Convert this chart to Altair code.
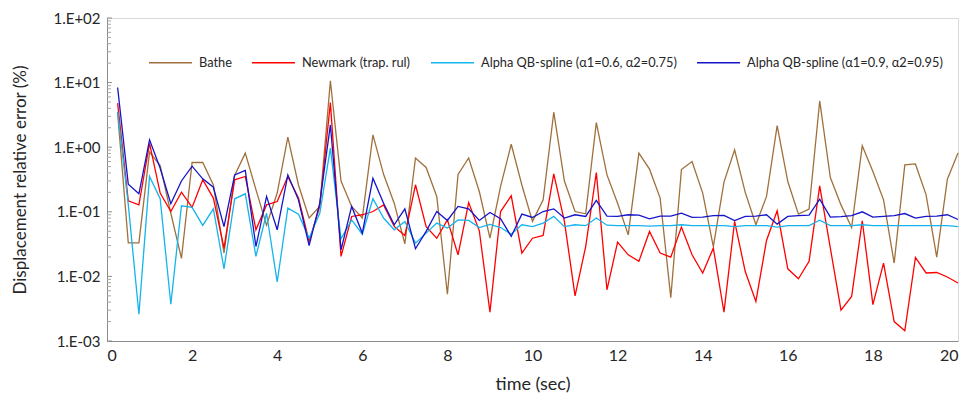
import altair as alt
import pandas as pd

# time steps (sec)
time = [0.25, 0.5, 0.75, 1.0, 1.25, 1.5, 1.75, 2.0, 2.25, 2.5, 2.75, 3.0,
        3.25, 3.5, 3.75, 4.0, 4.25, 4.5, 4.75, 5.0, 5.25, 5.5, 5.75, 6.0,
        6.25, 6.5, 6.75, 7.0, 7.25, 7.5, 7.75, 8.0, 8.25, 8.5, 8.75, 9.0,
        9.25, 9.5, 9.75, 10.0, 10.25, 10.5, 10.75, 11.0, 11.25, 11.5, 11.75, 12.0,
        12.25, 12.5, 12.75, 13.0, 13.25, 13.5, 13.75, 14.0, 14.25, 14.5, 14.75, 15.0,
        15.25, 15.5, 15.75, 16.0, 16.25, 16.5, 16.75, 17.0, 17.25, 17.5, 17.75, 18.0,
        18.25, 18.5, 18.75, 19.0, 19.25, 19.5, 19.75, 20.0]

bathe = [3.4, 0.033, 0.033, 0.84, 0.52, 0.095, 0.019, 0.58, 0.58, 0.26, 0.023, 0.365,
         0.81, 0.22, 0.062, 0.195, 1.43, 0.26, 0.080, 0.121, 10.7, 0.30, 0.121, 0.080,
         1.55, 0.38, 0.136, 0.032, 0.68, 0.485, 0.173, 0.0053, 0.38, 0.68, 0.206, 0.039,
         0.247, 1.11, 0.26, 0.071, 0.153, 3.48, 0.30, 0.101, 0.093, 2.40, 0.373, 0.136,
         0.044, 0.81, 0.457, 0.163, 0.0047, 0.45, 0.60, 0.195, 0.029, 0.288, 0.91, 0.20,
         0.063, 0.173, 2.16, 0.294, 0.092, 0.110, 5.2, 0.34, 0.128, 0.057, 1.05, 0.42,
         0.153, 0.0161, 0.533, 0.55, 0.183, 0.0199, 0.32, 0.81]

newmark = [4.8, 0.148, 0.128, 1.15, 0.195, 0.101, 0.201, 0.117, 0.313, 0.163, 0.0274, 0.313,
           0.352, 0.0527, 0.128, 0.144, 0.352, 0.163, 0.0348, 0.121, 4.9, 0.0204, 0.0847, 0.09,
           0.101, 0.128, 0.0593, 0.043, 0.262, 0.059, 0.039, 0.075, 0.0216, 0.139, 0.0508, 0.0028,
           0.101, 0.177, 0.023, 0.039, 0.043, 0.387, 0.071, 0.0050, 0.029, 0.406, 0.0062, 0.034,
           0.0216, 0.0171, 0.0497, 0.023, 0.0199, 0.058, 0.0216, 0.0113, 0.0274, 0.0028, 0.071, 0.0119,
           0.0041, 0.036, 0.1035, 0.0131, 0.0092, 0.0171, 0.252, 0.0274, 0.0030, 0.0049, 0.0726, 0.00365,
           0.0161, 0.0020, 0.00144, 0.0197, 0.0113, 0.0115, 0.0098, 0.0079]

qb_06 = [3.56, 0.13, 0.0026, 0.352, 0.159, 0.0037, 0.124, 0.117, 0.0615, 0.111, 0.0131, 0.159,
         0.19, 0.0204, 0.095, 0.0082, 0.114, 0.092, 0.039, 0.095, 0.966, 0.0382, 0.075, 0.045,
         0.159, 0.080, 0.0527, 0.071, 0.0327, 0.0468, 0.0668, 0.0559, 0.075, 0.0734, 0.057, 0.064,
         0.057, 0.045, 0.063, 0.059, 0.067, 0.085, 0.059, 0.063, 0.061, 0.080, 0.062, 0.061,
         0.061, 0.061, 0.060, 0.061, 0.061, 0.063, 0.061, 0.061, 0.061, 0.061, 0.059, 0.061,
         0.061, 0.061, 0.058, 0.061, 0.061, 0.061, 0.074, 0.061, 0.061, 0.061, 0.063, 0.061,
         0.061, 0.061, 0.061, 0.061, 0.061, 0.061, 0.061, 0.059]

qb_09 = [8.4, 0.268, 0.19, 1.30, 0.473, 0.133, 0.30, 0.508, 0.324, 0.24, 0.059, 0.373,
         0.436, 0.029, 0.173, 0.0527, 0.373, 0.153, 0.030, 0.136, 2.21, 0.0258, 0.121, 0.0468,
         0.33, 0.136, 0.063, 0.111, 0.0268, 0.0497, 0.101, 0.0734, 0.121, 0.111, 0.0734, 0.0977,
         0.078, 0.0416, 0.092, 0.0817, 0.101, 0.111, 0.080, 0.09, 0.0847, 0.150, 0.086, 0.0847,
         0.09, 0.089, 0.078, 0.086, 0.086, 0.095, 0.082, 0.083, 0.087, 0.088, 0.073, 0.085,
         0.086, 0.09, 0.0644, 0.085, 0.087, 0.089, 0.157, 0.083, 0.084, 0.087, 0.1, 0.083,
         0.085, 0.087, 0.094, 0.080, 0.085, 0.086, 0.09, 0.076]

series_names = ["Bathe", "Newmark (trap. rul)",
                "Alpha QB-spline (α1=0.6, α2=0.75)", "Alpha QB-spline (α1=0.9, α2=0.95)"]
series_values = [bathe, newmark, qb_06, qb_09]
series_colors = ["#a0703c", "#ff0000", "#14b4ec", "#1414c8"]

x_ticks = [0, 2, 4, 6, 8, 10, 12, 14, 16, 18, 20]
y_ticks = [0.001, 0.01, 0.1, 1, 10, 100]
minor_mult = [2, 3, 4, 5, 6, 7, 8, 9]
minor_ticks = [m * d for d in y_ticks[:-1] for m in minor_mult]

FONT = "Lato"
TEXT = "#262626"

rows = []
for name, vals in zip(series_names, series_values):
    for t, v in zip(time, vals):
        rows.append({"series": name, "time": t, "value": v})
df = pd.DataFrame(rows)

xscale = alt.Scale(domain=[0, 20], nice=False)
yscale = alt.Scale(type="log", domain=[0.001, 100], nice=False)

lines = alt.Chart(df).mark_line(strokeWidth=1.3).encode(
    x=alt.X("time:Q", scale=xscale,
            axis=alt.Axis(values=x_ticks, ticks=False, grid=False, labelFontSize=16,
                          labelPadding=6, labelFont=FONT, labelColor=TEXT,
                          domainColor="#8c8c8c", title="time (sec)",
                          titleFontSize=18, titleFont=FONT, titleFontWeight="normal",
                          titleColor=TEXT, titleX=425.5, titleY=43,
                          titleBaseline="middle", titleAlign="center")),
    y=alt.Y("value:Q", scale=yscale,
            axis=alt.Axis(values=y_ticks, ticks=False, grid=False, labelFontSize=15,
                          labelPadding=7, labelFont=FONT, labelColor=TEXT,
                          domainColor="#8c8c8c",
                          labelExpr="'1.E' + (datum.value >= 1 ? '+0' : '-0') + format(abs(round(log(datum.value) / LN10)), 'd')",
                          title="Displacement relative error (%)",
                          titleFontSize=17, titleFont=FONT, titleFontWeight="normal",
                          titleColor=TEXT, titleX=-87, titleY=161.5, titleAngle=270,
                          titleBaseline="middle", titleAlign="center")),
    color=alt.Color("series:N", sort=series_names,
                    scale=alt.Scale(domain=series_names, range=series_colors),
                    legend=alt.Legend(title=None, orient="none", direction="horizontal",
                                      legendX=41, legendY=22, symbolType="stroke",
                                      symbolSize=1849, symbolStrokeWidth=1.5,
                                      labelFontSize=12.8, labelFont=FONT,
                                      labelColor=TEXT, labelOffset=6, columnPadding=17,
                                      labelLimit=400)),
)

major_df = pd.DataFrame({"v": y_ticks})
minor_df = pd.DataFrame({"v": minor_ticks})

major_rules = alt.Chart(major_df).mark_rule(color="#8c8c8c", strokeWidth=1).encode(
    y=alt.Y("v:Q", scale=yscale), x=alt.value(0), x2=alt.value(5))
minor_rules = alt.Chart(minor_df).mark_rule(color="#a6a6a6", strokeWidth=1).encode(
    y=alt.Y("v:Q", scale=yscale), x=alt.value(0), x2=alt.value(4))

chart = alt.layer(lines, minor_rules, major_rules).properties(
    width=851, height=323,
    autosize=alt.AutoSizeParams(type="none"),
    padding={"left": 107, "top": 18, "right": 21, "bottom": 58},
    background="white",
).configure_view(stroke="#d9d9d9", strokeWidth=1)

chart.save("out.html", embed_options={"renderer": "svg", "actions": False})
